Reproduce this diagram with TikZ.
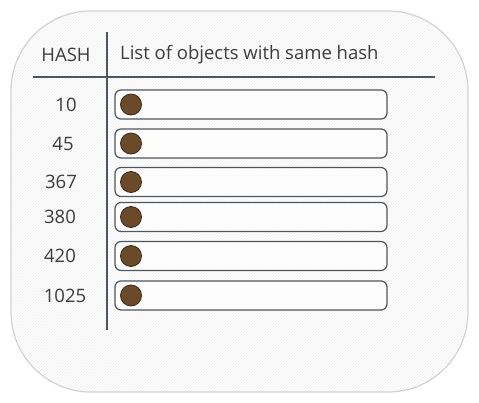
\documentclass[tikz,border=0pt]{standalone}
\usepackage{fontspec}
\setmainfont{Open Sans}
\usetikzlibrary{patterns}
\definecolor{ink}{HTML}{50565E}
\definecolor{frame}{HTML}{D2D2D2}
\definecolor{dot}{HTML}{6B4A2A}
\definecolor{dotline}{HTML}{3A2A1A}
\definecolor{txt}{HTML}{3C3C3C}
\definecolor{hatch}{HTML}{EFEFEF}
\tikzset{
  outer/.style={draw=frame, line width=1.2pt, rounded corners=80pt},
  rule/.style={draw=ink, line width=1.4pt},
  slot/.style={draw=ink, line width=1.2pt, rounded corners=6pt, fill=white, fill opacity=0.6},
  marker/.style={circle, fill=dot, draw=dotline, line width=0.8pt, minimum size=21pt, inner sep=0pt},
  hashlbl/.style={text=txt, font=\fontsize{18.5}{20}\selectfont, inner sep=0pt, anchor=center},
  headlbl/.style={text=txt, font=\fontsize{18.5}{20}\selectfont, inner sep=0pt},
}
\begin{document}
\begin{tikzpicture}[x=1pt,y=-1pt]
\useasboundingbox (0,0) rectangle (479,402);
\fill[white] (0,0) rectangle (479,402);
\fill[pattern=north east lines, pattern color=hatch, rounded corners=80pt] (11,11) rectangle (468,392);
\draw[outer] (11,11) rectangle (468,392);
\coordinate (vt) at (107,32);
\coordinate (vb) at (107,330);
\coordinate (hl) at (33,77);
\coordinate (hr) at (435,77);
\draw[rule] (vt) -- (vb);
\draw[rule] (hl) -- (hr);
\node[headlbl, anchor=center] (hash) at (66,55) {HASH};
\node[headlbl, anchor=west] (list) at (120,55) {List of objects with same hash};
\foreach \n/\lab/\yc/\lx in {a/10/104.5/66, b/45/143.5/63, c/367/182/61, d/380/217/60, e/420/256/60, f/1025/295.5/65}{
  \draw[slot] (115,\yc-14.5) rectangle (387,\yc+14.5);
  \node[marker] (m\n) at (131,\yc) {};
  \node[hashlbl] (l\n) at (\lx,\yc) {\lab};
}
\end{tikzpicture}
\end{document}
